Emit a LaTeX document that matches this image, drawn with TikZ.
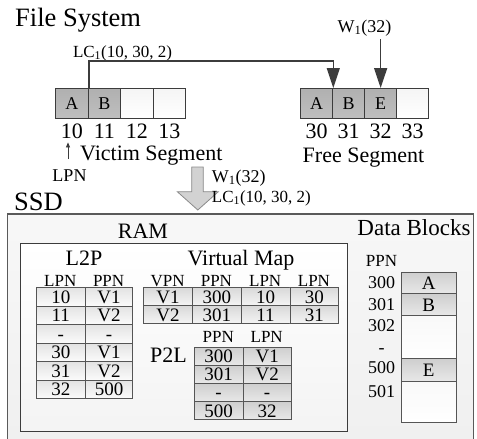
\documentclass[tikz,border=0pt]{standalone}
\usepackage{fontspec}
\setmainfont{Liberation Serif}
\usetikzlibrary{arrows.meta}

\newcommand\fsz[1]{\fontsize{#1pt}{#1pt}\selectfont}

\definecolor{edgecol}{HTML}{3C3C3C}
\definecolor{celledge}{HTML}{555555}
\definecolor{ssdedge}{HTML}{5A5A5A}
\definecolor{arrowfill}{HTML}{D2D2D2}
\definecolor{arrowedge}{HTML}{8A8A8A}

\begin{document}
\begin{tikzpicture}[x=1pt,y=-1pt,
  lbl/.style={inner sep=0pt, anchor=base, text=black},
  lblw/.style={lbl, anchor=base west},
  lble/.style={lbl, anchor=base east},
  segbox/.style={draw=edgecol, line width=1.3pt, minimum height=30pt,
    anchor=north west, inner sep=0pt, font=\fsz{18}, text height=12pt, text depth=0pt},
  segfull/.style={segbox, top color=gray!62, bottom color=gray!50},
  segempty/.style={segbox, top color=gray!8, bottom color=white},
  tcell/.style={draw=celledge, line width=0.8pt, anchor=north west, inner sep=0pt,
    font=\fsz{19}, text height=14.5pt, text depth=1.5pt},
  l2pcell/.style={tcell, minimum height=18.5pt, top color=gray!22, bottom color=gray!3},
  vmcell/.style={tcell, minimum width=48.75pt, minimum height=18pt, top color=gray!30, bottom color=gray!8},
  p2lcell/.style={tcell, minimum width=48.5pt, minimum height=18.15pt, top color=gray!38, bottom color=gray!18},
  blkfull/.style={tcell, minimum width=54.7pt, top color=gray!38, bottom color=gray!18},
  blkempty/.style={tcell, minimum width=54.7pt, top color=gray!5, bottom color=white},
  conn/.style={draw=edgecol, line width=1.4pt, -{Triangle[length=20pt,width=13pt]}},
  smallarr/.style={draw=edgecol, line width=0.8pt, -{Triangle[length=5pt,width=4pt]}}
]
\useasboundingbox (0,0) rectangle (477,439);

% ---------------- file system layer ----------------
\node[lblw, font=\fsz{26.5}] (fstitle) at (15,27) {File System};

% victim segment
\node[segfull,  minimum width=32.5pt] (lA) at (55,88)    {A};
\node[segfull,  minimum width=32.5pt] (lB) at (87.5,88)  {B};
\node[segempty, minimum width=32.5pt] (lC) at (120,88)   {};
\node[segempty, minimum width=32.5pt] (lD) at (152.5,88) {};

% free segment
\node[segfull,  minimum width=32pt] (rA) at (300,88) {A};
\node[segfull,  minimum width=32pt] (rB) at (332,88) {B};
\node[segfull,  minimum width=32pt] (rE) at (364,88) {E};
\node[segempty, minimum width=32pt] (rD) at (396,88) {};

% logical page numbers
\coordinate (numrow) at (0,138);
\node[lbl, font=\fsz{22}] (n10) at (lA |- numrow) {10};
\node[lbl, font=\fsz{22}] (n11) at (lB |- numrow) {11};
\node[lbl, font=\fsz{22}] (n12) at (lC |- numrow) {12};
\node[lbl, font=\fsz{22}] (n13) at (lD |- numrow) {13};
\node[lbl, font=\fsz{22}] (n30) at (rA |- numrow) {30};
\node[lbl, font=\fsz{22}] (n31) at (rB |- numrow) {31};
\node[lbl, font=\fsz{22}] (n32) at (rE |- numrow) {32};
\node[lbl, font=\fsz{22}] (n33) at (rD |- numrow) {33};

\node[lblw, font=\fsz{22}] (victim) at (80,160) {Victim Segment};
\node[lbl,  font=\fsz{22}] (free)   at (363.5,162.7) {Free Segment};
\node[lbl,  font=\fsz{18}] (lpn)    at (69.5,181) {LPN};
\draw[smallarr, shorten <=10pt, shorten >=4pt]
  ([xshift=-1.5pt]lpn.north) -- ([xshift=-1.5pt]lpn.north |- n10.south);

% copy command and new write
\node[lbl, font=\fsz{17}] (lctop) at (122.5,57) {LC\textsubscript{1}(10, 30, 2)};
\draw[conn] (lA.north east) -- ++(0,-27) -| (rA.north east);
\node[lbl, font=\fsz{18}] (wtop) at (364.5,32) {W\textsubscript{1}(32)};
\draw[conn, shorten <=3pt] (rE.north |- wtop.south) -- (rE.north);

% commands passed down to the device
\draw[draw=arrowedge, fill=arrowfill, line width=0.8pt]
  (191.7,167) -- (203.3,167) -- (203.3,191.7) -- (218.3,191.7) -- (197.8,210)
  -- (177.3,191.7) -- (191.7,191.7) -- cycle;
\node[lblw, font=\fsz{18}] (wdown)  at (211.7,182) {W\textsubscript{1}(32)};
\node[lblw, font=\fsz{17}] (lcdown) at (211.7,202) {LC\textsubscript{1}(10, 30, 2)};

% ---------------- SSD ----------------
% the device frame runs past the lower edge of the page
\node[lblw, font=\fsz{26.5}] (ssdtitle) at (14,210) {SSD};
\node[draw=ssdedge, line width=1.2pt, top color=gray!6, bottom color=gray!12,
  minimum width=466pt, minimum height=236pt, anchor=north west, inner sep=0pt] (ssd) at (7,213.3) {};

% RAM
\node[draw=edgecol, line width=1.3pt, top color=white, bottom color=gray!9,
  minimum width=327pt, minimum height=187.5pt, anchor=north west, inner sep=0pt] (ram) at (20,243) {};
\node[lbl, font=\fsz{22}] (ramtitle) at (143,238) {RAM};

% L2P table
\node[lbl, font=\fsz{22}] (l2ptitle) at (84,265) {L2P};
\node[lbl, font=\fsz{17}] (l2phl) at (60.3,286) {LPN};
\node[lbl, font=\fsz{17}] (l2phr) at (108.6,286) {PPN};
\foreach \a/\b [count=\i] in {10/V1,11/V2,-/-,30/V1,31/V2,32/500}{
  \node[l2pcell, minimum width=49.3pt] (l2p\i a) at (35.7,{287.3+18.5*(\i-1)}) {\a};
  \node[l2pcell, minimum width=47.3pt] (l2p\i b) at (85,{287.3+18.5*(\i-1)}) {\b};
}

% virtual map table
\node[lbl, font=\fsz{22}] (vmtitle) at (241,265) {Virtual Map};
\foreach \h [count=\j] in {VPN,PPN,LPN,LPN}{
  \node[lbl, font=\fsz{17}] (vmh\j) at ({143.3+48.75*(\j-0.5)},286) {\h};
}
\foreach \a/\b/\c/\d [count=\i] in {V1/300/10/30,V2/301/11/31}{
  \node[vmcell] (vm\i a) at (143.3,{287.3+18*(\i-1)}) {\a};
  \node[vmcell] (vm\i b) at (192.05,{287.3+18*(\i-1)}) {\b};
  \node[vmcell] (vm\i c) at (240.8,{287.3+18*(\i-1)}) {\c};
  \node[vmcell] (vm\i d) at (289.55,{287.3+18*(\i-1)}) {\d};
}

% P2L table
\node[lbl, font=\fsz{22}] (p2ltitle) at (168.5,362) {P2L};
\node[lbl, font=\fsz{17}] (p2lhl) at (218.2,342) {PPN};
\node[lbl, font=\fsz{17}] (p2lhr) at (266.7,342) {LPN};
\foreach \a/\b [count=\i] in {300/V1,301/V2,-/-,500/32}{
  \node[p2lcell] (p2l\i a) at (194,{346.7+18.15*(\i-1)}) {\a};
  \node[p2lcell] (p2l\i b) at (242.5,{346.7+18.15*(\i-1)}) {\b};
}

% data blocks
\node[lbl, font=\fsz{23}] (dbtitle) at (414,235) {Data Blocks};
\node[lbl, font=\fsz{17}] (dbppn) at (381.5,266.7) {PPN};
\node[blkfull,  minimum height=21.6pt] (blkA) at (401,271.7) {A};
\node[blkfull,  minimum height=21.7pt] (blkB) at (401,293.3) {B};
\node[blkempty, minimum height=43.3pt] (blkC) at (401,315)   {};
\node[blkfull,  minimum height=22.7pt] (blkE) at (401,358.3) {E};
\node[blkempty, minimum height=40.7pt] (blkF) at (401,381)   {};
\node[lbl, font=\fsz{18}] (p300) at (381.5,288)   {300};
\node[lbl, font=\fsz{18}] (p301) at (381.5,310)   {301};
\node[lbl, font=\fsz{18}] (p302) at (381.5,331.7) {302};
\node[lbl, font=\fsz{18}] (pdash) at (381.5,353)  {-};
\node[lbl, font=\fsz{18}] (p500) at (381.5,373.3) {500};
\node[lbl, font=\fsz{18}] (p501) at (381.5,397.3) {501};
\end{tikzpicture}
\end{document}
